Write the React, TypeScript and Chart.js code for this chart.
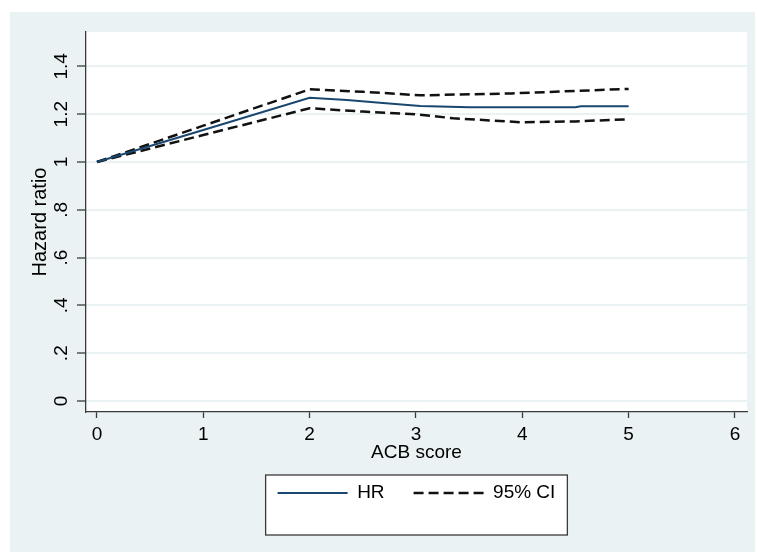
import React, { useEffect, useRef } from 'react';
import { Chart, registerables } from 'chart.js';

Chart.register(...registerables);

// ---- data ----
const hrX = [0, 1, 2, 2.35, 2.66, 3.04, 3.5, 4.5, 4.55, 5];
const hrY = [1.0, 1.134, 1.269, 1.259, 1.248, 1.234, 1.229, 1.229, 1.233, 1.233];

const upperX = [0, 1, 2, 2.5, 3.04, 3.9, 5];
const upperY = [1.0, 1.152, 1.304, 1.294, 1.279, 1.287, 1.306];

const lowerX = [0, 1, 2, 2.5, 3, 3.35, 4, 4.5, 5];
const lowerY = [1.0, 1.113, 1.225, 1.211, 1.2, 1.183, 1.166, 1.17, 1.179];

const xTicks = [0, 1, 2, 3, 4, 5, 6];
const xTickLabels = ['0', '1', '2', '3', '4', '5', '6'];
const yTicks = [0, 0.2, 0.4, 0.6, 0.8, 1.0, 1.2, 1.4];
const yTickLabels = ['0', '.2', '.4', '.6', '.8', '1', '1.2', '1.4'];

const seriesLabels = ['HR', '95% CI', '95% CI (lower)'];
const xTitle = 'ACB score';
const yTitle = 'Hazard ratio';

const PANEL = 'rgb(234,242,243)';
const NAVY = 'rgb(26,71,111)';
const FONT = 'Liberation Sans, Arial, sans-serif';

const toPts = (xs: number[], ys: number[]) => xs.map((x, i) => ({ x, y: ys[i] }));

const stataBg = {
  id: 'stataBg',
  beforeDraw(chart: any) {
    const { ctx, chartArea: a, width, height } = chart;
    ctx.save();
    ctx.fillStyle = '#ffffff';
    ctx.fillRect(0, 0, width, height);
    ctx.fillStyle = PANEL;
    ctx.fillRect(10, 12, 745, 540);
    ctx.fillStyle = '#ffffff';
    ctx.fillRect(a.left, a.top, a.right - a.left, a.bottom - a.top);
    const lg = chart.legend;
    if (lg && lg.legendHitBoxes && lg.legendHitBoxes.length) {
      const hb = lg.legendHitBoxes;
      const first = hb[0];
      const last = hb[hb.length - 1];
      const left = first.left - 12;
      const right = last.left + last.width + 12;
      const cy = first.top + first.height / 2;
      const top = cy - 18;
      const bottom = cy + 42;
      ctx.fillStyle = '#ffffff';
      ctx.fillRect(left, top, right - left, bottom - top);
      ctx.strokeStyle = '#3a3a3a';
      ctx.lineWidth = 1.3;
      ctx.strokeRect(left, top, right - left, bottom - top);
    }
    ctx.restore();
  },
};

export default function App() {
  const ref = useRef<HTMLCanvasElement | null>(null);

  useEffect(() => {
    if (!ref.current) return;
    const chart = new Chart(ref.current, {
      type: 'line',
      data: {
        datasets: [
          {
            label: seriesLabels[0],
            data: toPts(hrX, hrY),
            borderColor: NAVY,
            backgroundColor: NAVY,
            borderWidth: 2,
            pointRadius: 0,
            tension: 0,
          },
          {
            label: seriesLabels[1],
            data: toPts(upperX, upperY),
            borderColor: '#111111',
            backgroundColor: '#111111',
            borderWidth: 2.5,
            borderDash: [10, 5],
            pointRadius: 0,
            tension: 0,
          },
          {
            label: seriesLabels[2],
            data: toPts(lowerX, lowerY),
            borderColor: '#111111',
            backgroundColor: '#111111',
            borderWidth: 2.5,
            borderDash: [10, 5],
            pointRadius: 0,
            tension: 0,
          },
        ],
      },
      options: {
        animation: false,
        responsive: false,
        devicePixelRatio: 1,
        parsing: false as any,
        layout: { padding: { left: 10, top: 32, right: 10, bottom: 41.5 } },
        scales: {
          x: {
            type: 'linear',
            min: -0.103,
            max: 6.113,
            afterBuildTicks: (s: any) => {
              s.ticks = xTicks.map((v) => ({ value: v }));
            },
            afterFit: (s: any) => {
              s.height = 42.5;
            },
            ticks: {
              autoSkip: false,
              maxRotation: 0,
              minRotation: 0,
              padding: 5,
              color: '#000',
              font: { family: FONT, size: 19 },
              callback: (_v: any, i: number) => xTickLabels[i],
            },
            grid: {
              drawOnChartArea: false,
              drawTicks: true,
              tickLength: 6,
              tickColor: '#3a3a3a',
              tickWidth: 1.3,
            },
            border: { color: '#3a3a3a', width: 1.3 },
            title: {
              display: true,
              text: xTitle,
              color: '#000',
              font: { family: FONT, size: 19 },
              padding: { top: 0, bottom: -10 },
            },
          },
          y: {
            type: 'linear',
            min: -0.046,
            max: 1.544,
            afterBuildTicks: (s: any) => {
              s.ticks = yTicks.map((v) => ({ value: v }));
            },
            afterFit: (s: any) => {
              s.width = 76;
            },
            ticks: {
              autoSkip: false,
              minRotation: 90,
              maxRotation: 90,
              crossAlign: 'center',
              padding: 2,
              color: '#000',
              font: { family: FONT, size: 19 },
              callback: (_v: any, i: number) => yTickLabels[i],
            },
            grid: {
              color: PANEL,
              lineWidth: 2,
              drawTicks: true,
              tickLength: 9,
              tickColor: '#3a3a3a',
              tickWidth: 1.3,
            },
            border: { color: '#3a3a3a', width: 1.3 },
            title: {
              display: true,
              text: yTitle,
              color: '#000',
              font: { family: FONT, size: 20 },
              padding: { top: 18, bottom: 0 },
            },
          },
        },
        plugins: {
          legend: {
            display: true,
            position: 'bottom',
            fullSize: false,
            align: 'center',
            labels: {
              usePointStyle: true,
              pointStyle: 'line',
              pointStyleWidth: 70,
              padding: 29,
              color: '#000',
              font: { family: FONT, size: 19 },
              filter: (item: any) => item.datasetIndex !== 2,
              generateLabels: (c: any) => {
                const items = Chart.defaults.plugins.legend.labels.generateLabels(c);
                return items.map((it: any) => {
                  const ds: any = c.data.datasets[it.datasetIndex];
                  return {
                    ...it,
                    strokeStyle: ds.borderColor,
                    fillStyle: ds.borderColor,
                    lineWidth: ds.borderWidth,
                    lineDash: ds.borderDash || [],
                    pointStyle: 'line',
                  };
                });
              },
            },
          },
          tooltip: { enabled: false },
        },
      },
      plugins: [stataBg],
    });
    return () => chart.destroy();
  }, []);

  return (
    <div style={{ position: 'fixed', left: 0, top: 0, width: 757, height: 554, background: '#fff' }}>
      <canvas ref={ref} width={757} height={554} style={{ display: 'block' }} />
    </div>
  );
}
